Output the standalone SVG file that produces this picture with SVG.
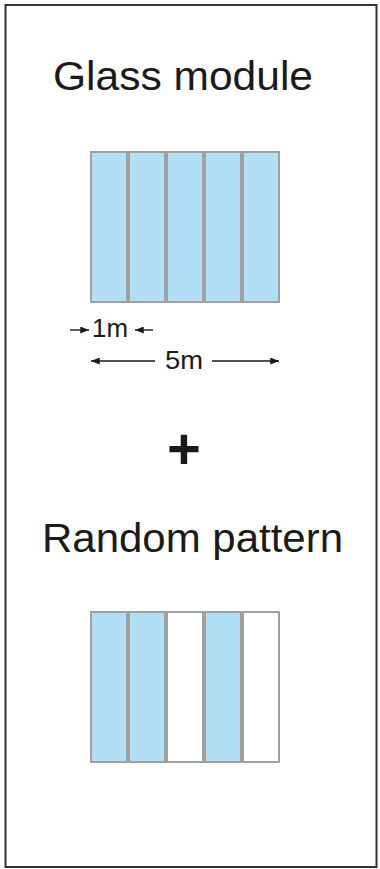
<svg xmlns="http://www.w3.org/2000/svg" width="380" height="869" viewBox="0 0 380 869">
<style>
.t{font-family:"Liberation Sans",Arial,sans-serif;fill:#1a1a1a}
.g{fill:#b3dff4;stroke:#a0a0a0;stroke-width:2}
.w{fill:#ffffff;stroke:#a0a0a0;stroke-width:2}
.dim{stroke:#1a1a1a;stroke-width:1.4;fill:none}
</style>
<defs>
<marker id="ah" viewBox="0 0 10 8" refX="10" refY="4" markerWidth="9" markerHeight="7" markerUnits="userSpaceOnUse" orient="auto">
<path d="M0,0 L10,4 L0,8 Z" fill="#1a1a1a"/>
</marker>
</defs>
<rect x="0" y="0" width="380" height="869" fill="#ffffff"/>
<rect id="frame" x="5.5" y="5" width="371" height="862" fill="none" stroke="#333333" stroke-width="2"/>
<g id="title1"><text class="t" x="183" y="90" font-size="40" text-anchor="middle" textLength="260" lengthAdjust="spacingAndGlyphs">Glass module</text></g>
<g id="module">
<rect class="g" x="91" y="152" width="36" height="150"/>
<rect class="g" x="129" y="152" width="36" height="150"/>
<rect class="g" x="167" y="152" width="36" height="150"/>
<rect class="g" x="205" y="152" width="36" height="150"/>
<rect class="g" x="243" y="152" width="36" height="150"/>
</g>
<g id="connectors">
<line class="dim" x1="70" y1="330" x2="89" y2="330" marker-end="url(#ah)"/>
<line class="dim" x1="153" y1="330" x2="135" y2="330" marker-end="url(#ah)"/>
<line class="dim" x1="155" y1="361" x2="91" y2="361" marker-end="url(#ah)"/>
<line class="dim" x1="212" y1="361" x2="279" y2="361" marker-end="url(#ah)"/>
</g>
<g id="label1m"><text class="t" x="92" y="337" font-size="26" textLength="36" lengthAdjust="spacingAndGlyphs">1m</text></g>
<g id="label5m"><text class="t" x="184" y="369" font-size="26" text-anchor="middle" textLength="38" lengthAdjust="spacingAndGlyphs">5m</text></g>
<g id="plus"><text class="t" x="184" y="469" font-size="58" font-weight="bold" text-anchor="middle">+</text></g>
<g id="title2"><text class="t" x="192.5" y="552" font-size="40" text-anchor="middle" textLength="301" lengthAdjust="spacingAndGlyphs">Random pattern</text></g>
<g id="pattern">
<rect class="g" x="91" y="612" width="36" height="150"/>
<rect class="g" x="129" y="612" width="36" height="150"/>
<rect class="w" x="167" y="612" width="36" height="150"/>
<rect class="g" x="205" y="612" width="36" height="150"/>
<rect class="w" x="243" y="612" width="36" height="150"/>
</g>
</svg>
